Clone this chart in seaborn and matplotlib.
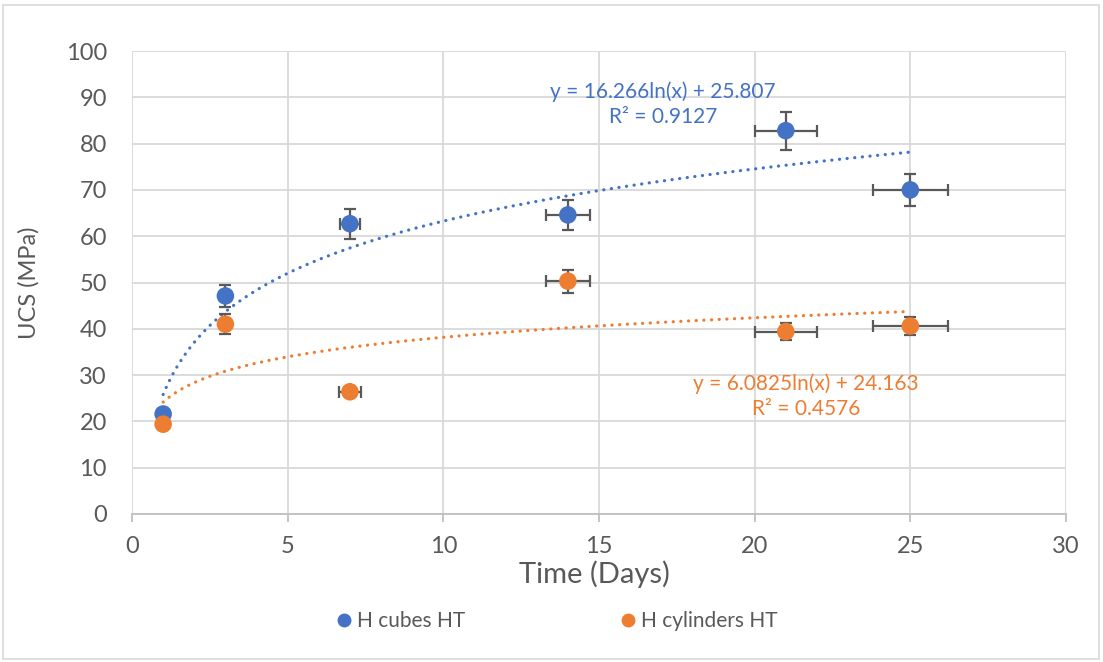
import numpy as np
import pandas as pd
import matplotlib
matplotlib.use("Agg")
import matplotlib.pyplot as plt
from matplotlib.lines import Line2D
from matplotlib.patches import Rectangle
import seaborn as sns

# Curing time (days) and UCS results for the two heat-treated specimen types
days = [1, 3, 7, 14, 21, 25]
cubes_ucs = [21.6, 47.1, 62.7, 64.6, 82.8, 70.0]
cubes_yerr = [0.5, 2.4, 3.2, 3.2, 4.1, 3.5]
cubes_xerr = [0.05, 0.15, 0.33, 0.7, 1.0, 1.2]
cyl_ucs = [19.4, 41.0, 26.4, 50.3, 39.4, 40.6]
cyl_yerr = [0.4, 2.2, 0.8, 2.5, 1.9, 2.0]
cyl_xerr = [0.05, 0.15, 0.35, 0.7, 1.0, 1.2]

# Logarithmic trend lines: y = a ln(x) + b
cubes_a, cubes_b, cubes_r2 = "16.266", "25.807", "0.9127"
cyl_a, cyl_b, cyl_r2 = "6.0825", "24.163", "0.4576"

series_names = ["H cubes HT", "H cylinders HT"]
x_ticks = [0, 5, 10, 15, 20, 25, 30]
y_ticks = [0, 10, 20, 30, 40, 50, 60, 70, 80, 90, 100]

BLUE = "#4472C4"
ORANGE = "#ED7D31"
TEXT = "#595959"
GRID = "#D9D9D9"

sns.set_theme(style="white")
plt.rcParams["font.family"] = ["Lato", "DejaVu Sans"]

df = pd.concat([
    pd.DataFrame({"days": days, "ucs": cubes_ucs, "series": series_names[0]}),
    pd.DataFrame({"days": days, "ucs": cyl_ucs, "series": series_names[1]}),
], ignore_index=True)

fig = plt.figure(figsize=(11.03, 6.62), dpi=100)
ax = fig.add_axes([132 / 1103, 1 - 514 / 662, 934 / 1103, 463 / 662])

# Trend curves
x_fit = np.linspace(1, 25, 300)
trend = pd.concat([
    pd.DataFrame({"days": x_fit,
                  "ucs": float(cubes_a) * np.log(x_fit) + float(cubes_b),
                  "series": series_names[0]}),
    pd.DataFrame({"days": x_fit,
                  "ucs": float(cyl_a) * np.log(x_fit) + float(cyl_b),
                  "series": series_names[1]}),
], ignore_index=True)
sns.lineplot(data=trend, x="days", y="ucs", hue="series",
             palette=[BLUE, ORANGE], ax=ax, legend=False,
             linewidth=2.3, zorder=2)
for ln in ax.get_lines():
    ln.set_linestyle((0, (0.05, 2.35)))
    ln.set_dash_capstyle("round")

# Error bars
for ucs, xe, ye in [(cubes_ucs, cubes_xerr, cubes_yerr), (cyl_ucs, cyl_xerr, cyl_yerr)]:
    ax.errorbar(days, ucs, xerr=xe, yerr=ye, fmt="none", ecolor="#595959",
                elinewidth=1.6, capsize=4, capthick=1.6, zorder=3)

# Data points
sns.scatterplot(data=df, x="days", y="ucs", hue="series",
                palette=[BLUE, ORANGE], s=160, linewidth=0, ax=ax,
                legend=False, zorder=4)

ax.set_xlim(0, 30)
ax.set_ylim(0, 100)
ax.set_xticks(x_ticks)
ax.set_yticks(y_ticks)
ax.grid(True, color=GRID, linewidth=1.3)
ax.set_axisbelow(True)
for side in ["top", "right", "left"]:
    ax.spines[side].set_visible(False)
ax.spines["bottom"].set_color("#BFBFBF")
ax.spines["bottom"].set_linewidth(1.3)
ax.tick_params(axis="x", length=6, width=1.3, color="#BFBFBF", pad=10,
               labelsize=17, labelcolor=TEXT, bottom=True)
ax.tick_params(axis="y", length=0, pad=18, labelsize=17, labelcolor=TEXT)

ax.set_xlabel("Time (Days)", fontsize=21, color=TEXT)
ax.xaxis.set_label_coords(0.495, -0.1)
ax.set_ylabel("UCS (MPa)", fontsize=17, color=TEXT)
ax.yaxis.set_label_coords(-0.099, 0.50)

# Trend line equations
ax.text(17.05, 88.5, f"y = {cubes_a}ln(x) + {cubes_b}\nR² = {cubes_r2}",
        color=BLUE, fontsize=15, ha="center", va="center",
        multialignment="center", linespacing=1.3)
ax.text(21.65, 25.4, f"y = {cyl_a}ln(x) + {cyl_b}\nR² = {cyl_r2}",
        color=ORANGE, fontsize=15, ha="center", va="center",
        multialignment="center", linespacing=1.3)

handles = [Line2D([], [], marker="o", linestyle="none", markersize=10,
                  markerfacecolor=c, markeredgewidth=0)
           for c in (BLUE, ORANGE)]
fig.legend(handles, series_names, loc="center", ncol=2,
           bbox_to_anchor=(557 / 1103, 1 - 621 / 662), frameon=False,
           fontsize=15, labelcolor=TEXT, handlelength=0.7,
           handletextpad=0.25, columnspacing=7.5)

# Chart border
fig.patches.append(Rectangle((3 / 1103, 3 / 662), 1096 / 1103, 654 / 662,
                             transform=fig.transFigure, fill=False,
                             edgecolor="#D9D9D9", linewidth=1.2))

fig.savefig("out.png", dpi=100)
